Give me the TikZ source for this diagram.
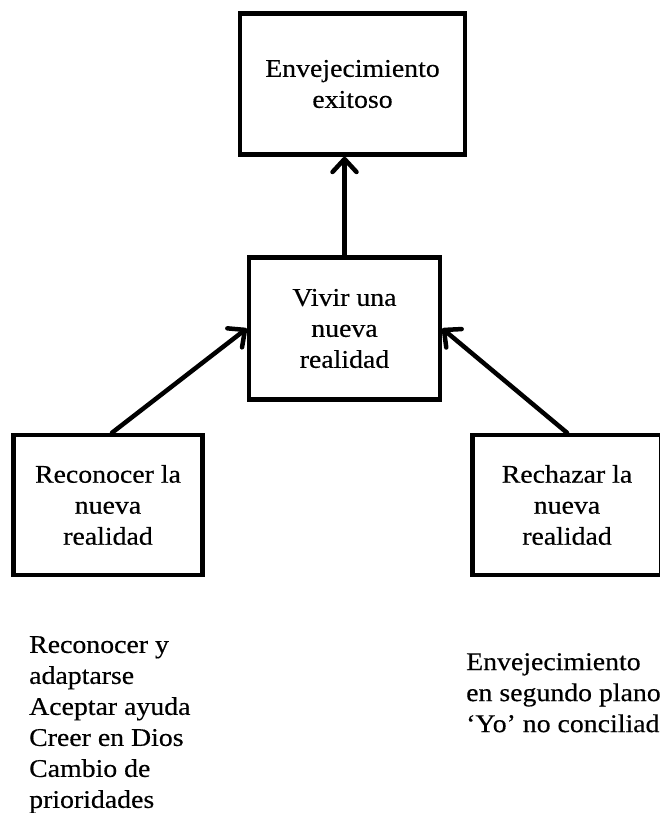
\documentclass[tikz,border=0pt]{standalone}
\usepackage{fontspec}
\setmainfont[FakeStretch=1.09,FakeBold=0.4]{Liberation Serif}
\usetikzlibrary{arrows.meta}
\begin{document}
\begin{tikzpicture}[x=1pt,y=-1pt,
  box/.style={draw, line width=4.5pt, fill=white, inner sep=0pt, align=center,
    font=\fontsize{25.5}{31}\selectfont},
  conn/.style={line width=4.5pt, line cap=round,
    -{Straight Barb[length=13pt,width=24pt,line width=4.5pt,line cap=round,round]}},
  note/.style={anchor=north west, align=left, inner sep=0pt,
    font=\fontsize{25.5}{31}\selectfont}]
\useasboundingbox (0,0) rectangle (660,813);
\clip (0,0) rectangle (660,813);

% boxes
\node[box, minimum width=225pt, minimum height=141pt] (goal) at (352.5,84)
  {Envejecimiento\\exitoso};
\node[box, minimum width=191pt, minimum height=142pt] (live) at (344.5,328.5)
  {Vivir una\\nueva\\realidad};
\node[box, minimum width=189pt, minimum height=140pt] (accept) at (108,505)
  {Reconocer la\\nueva\\realidad};
\node[box, minimum width=189pt, minimum height=140pt] (reject) at (567,505)
  {Rechazar la\\nueva\\realidad};

% connectors
\draw[conn] (live.north) -- (live.north |- goal.south);
\draw[conn] ([xshift=4pt]accept.north) -- (live.west);
\draw[conn] (reject.north) -- (live.east);

% lists under the lower boxes
\node[note] (acceptlist) at (29,636)
  {Reconocer y\\adaptarse\\Aceptar ayuda\\Creer en Dios\\Cambio de\\prioridades};
\node[note] (rejectlist) at (466,653)
  {Envejecimiento\\en segundo plano\\‘Yo’ no conciliado};
\end{tikzpicture}
\end{document}
